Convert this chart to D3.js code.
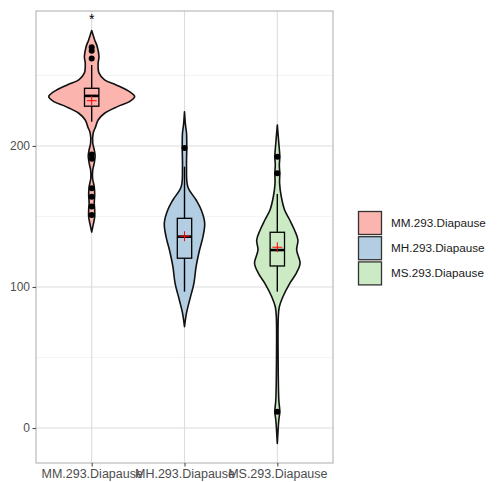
<!DOCTYPE html>
<html>
<head>
<meta charset="utf-8">
<script src="https://cdn.jsdelivr.net/npm/d3@7"></script>
<style>
  html, body { margin: 0; padding: 0; background: #fff; }
  svg { display: block; font-family: "Liberation Sans", Arial, sans-serif; }
</style>
</head>
<body>
<svg id="chart" width="497" height="482"></svg>
<script>
// ---------- data ----------
const categories = ["MM.293.Diapause", "MH.293.Diapause", "MS.293.Diapause"];
const fills = ["#FBB4AE", "#B3CDE3", "#CCEBC5"];
const yTicks = [0, 100, 200];
const yMinor = [50, 150, 250];

// violin outlines: [value, relative density]
const violinMM = [[281.8,0],[275.2,0.07],[270.4,0.13],[263.3,0.17],[258.7,0.15],[251.8,0.17],[246.8,0.30],[243.3,0.57],[238.5,0.88],[235,1.0],[231.4,0.88],[227.9,0.60],[223.2,0.30],[218.4,0.15],[213.5,0.09],[209.2,0.035],[202.1,0.025],[197.2,0.06],[192.9,0.08],[188,0.06],[183,0.025],[177.3,0.02],[171,0.06],[165.2,0.07],[159.6,0.06],[154.6,0.07],[149.6,0.07],[144,0.035],[139,0]];
const violinMH = [[224.3,0],[214.9,0.023],[209.2,0.047],[198.6,0.053],[185.3,0.047],[171.1,0.077],[161.7,0.27],[154.6,0.39],[145.4,0.47],[135.7,0.43],[126.2,0.35],[114.4,0.27],[102.8,0.22],[90.8,0.12],[81.6,0.047],[71.8,0]];
const violinMS = [[214.9,0],[201.9,0.035],[192.4,0.058],[186.5,0.047],[180.6,0.058],[173.5,0.053],[164,0.093],[154.6,0.17],[147.5,0.29],[140.4,0.40],[133.3,0.48],[126.2,0.45],[116.8,0.53],[109.7,0.44],[102.6,0.29],[93.1,0.13],[86,0.047],[78.9,0.023],[48.2,0.019],[19.9,0.035],[11.6,0.058],[5.7,0.035],[-10.9,0]];
const violins = [violinMM, violinMH, violinMS];

// box statistics
const q1 = [228.2, 120.4, 114.9];
const medians = [235.5, 135.7, 126.2];
const q3 = [240.9, 148.7, 138.8];
const whiskerLow = [217.2, 96.7, 96.7];
const whiskerHigh = [257.4, 185.3, 166.0];
const means = [232.1, 136.0, 128.2];

// outliers
const outliersMM = [270, 267.5, 262, 194, 191, 170, 164, 157, 151];
const outliersMH = [198.5];
const outliersMS = [192.4, 180.6, 11.6];
const outliers = [outliersMM, outliersMH, outliersMS];

// significance marker
const sigLabels = ["*", "", ""];
const sigValues = [291, null, null];

// ---------- layout ----------
const svg = d3.select("#chart");
const panel = { left: 36, top: 11, right: 333, bottom: 463 };

const x = d3.scalePoint().domain(categories).range([panel.left, panel.right]).padding(0.6);
const y = d3.scaleLinear().domain([-24.8, 295.7]).range([panel.bottom, panel.top]);
const step = x.step();
const wScale = d3.scaleLinear().domain([0, 1]).range([0, step * 0.463]);
const boxW = step * 0.155;

// grid
const g = svg.append("g");
g.selectAll(".minor").data(yMinor).join("line")
  .attr("x1", panel.left).attr("x2", panel.right)
  .attr("y1", d => y(d)).attr("y2", d => y(d))
  .attr("stroke", "#ebebeb").attr("stroke-width", 0.6);
g.selectAll(".major").data(yTicks).join("line")
  .attr("x1", panel.left).attr("x2", panel.right)
  .attr("y1", d => y(d)).attr("y2", d => y(d))
  .attr("stroke", "#dcdcdc").attr("stroke-width", 1.1);
g.selectAll(".vmajor").data(categories).join("line")
  .attr("x1", d => x(d)).attr("x2", d => x(d))
  .attr("y1", panel.top).attr("y2", panel.bottom)
  .attr("stroke", "#dcdcdc").attr("stroke-width", 1.1);

// violins
const area = d3.area()
  .curve(d3.curveCatmullRom)
  .y(d => y(d[0]));

categories.forEach((c, i) => {
  const cx = x(c);
  const a = area.x0(d => cx - wScale(d[1])).x1(d => cx + wScale(d[1]));
  svg.append("path")
    .attr("d", a(violins[i]))
    .attr("fill", fills[i])
    .attr("stroke", "#111")
    .attr("stroke-width", 1.6)
    .attr("stroke-linejoin", "round");
});

// boxplots
categories.forEach((c, i) => {
  const cx = x(c);
  const bg = svg.append("g");
  bg.append("line").attr("x1", cx).attr("x2", cx)
    .attr("y1", y(q3[i])).attr("y2", y(whiskerHigh[i]))
    .attr("stroke", "#000").attr("stroke-width", 1.4);
  bg.append("line").attr("x1", cx).attr("x2", cx)
    .attr("y1", y(q1[i])).attr("y2", y(whiskerLow[i]))
    .attr("stroke", "#000").attr("stroke-width", 1.4);
  bg.append("rect")
    .attr("x", cx - boxW / 2).attr("width", boxW)
    .attr("y", y(q3[i])).attr("height", y(q1[i]) - y(q3[i]))
    .attr("fill", "none").attr("stroke", "#000").attr("stroke-width", 1.3);
  bg.append("line")
    .attr("x1", cx - boxW / 2).attr("x2", cx + boxW / 2)
    .attr("y1", y(medians[i])).attr("y2", y(medians[i]))
    .attr("stroke", "#000").attr("stroke-width", 2.6);
  // outliers
  bg.selectAll("circle").data(outliers[i]).join("circle")
    .attr("cx", cx).attr("cy", d => y(d)).attr("r", 3)
    .attr("fill", "#000");
  // mean marker (+)
  const my = y(means[i]);
  bg.append("line").attr("x1", cx - 5).attr("x2", cx + 5)
    .attr("y1", my).attr("y2", my).attr("stroke", "#ff0000").attr("stroke-width", 1);
  bg.append("line").attr("x1", cx).attr("x2", cx)
    .attr("y1", my - 5).attr("y2", my + 5).attr("stroke", "#ff0000").attr("stroke-width", 1);
  // significance
  if (sigLabels[i]) {
    svg.append("text").attr("x", cx).attr("y", y(sigValues[i]) + 6)
      .attr("text-anchor", "middle").attr("font-size", 14).attr("fill", "#000")
      .text(sigLabels[i]);
  }
});

// panel border
svg.append("rect")
  .attr("x", panel.left).attr("y", panel.top)
  .attr("width", panel.right - panel.left).attr("height", panel.bottom - panel.top)
  .attr("fill", "none").attr("stroke", "#b3b3b3").attr("stroke-width", 1.1);

// axes
const yAxis = d3.axisLeft(y).tickValues(yTicks).tickSize(3.5).tickPadding(2.5);
const ya = svg.append("g").attr("transform", `translate(${panel.left},0)`).call(yAxis);
ya.select(".domain").remove();
ya.selectAll("line").attr("stroke", "#4d4d4d").attr("stroke-width", 1.1);
ya.selectAll("text").attr("fill", "#4d4d4d").attr("font-size", 12)
  .attr("font-family", "Liberation Sans, Arial, sans-serif");

const xAxis = d3.axisBottom(x).tickSize(3.5).tickPadding(2.5);
const xa = svg.append("g").attr("transform", `translate(0,${panel.bottom})`).call(xAxis);
xa.select(".domain").remove();
xa.selectAll("line").attr("stroke", "#4d4d4d").attr("stroke-width", 1.1);
xa.selectAll("text").attr("fill", "#4d4d4d").attr("font-size", 12.5)
  .attr("font-family", "Liberation Sans, Arial, sans-serif");

// legend
const legX = 358.5, legY = 211.5, keySize = 23, keyStep = 25.2;
const leg = svg.append("g");
categories.forEach((c, i) => {
  leg.append("rect")
    .attr("x", legX).attr("y", legY + i * keyStep)
    .attr("width", keySize).attr("height", keySize)
    .attr("fill", fills[i]).attr("stroke", "#333").attr("stroke-width", 1.3);
  leg.append("text")
    .attr("x", legX + keySize + 9.5).attr("y", legY + i * keyStep + keySize / 2)
    .attr("dy", "0.35em").attr("font-size", 11.7).attr("fill", "#1a1a1a")
    .text(c);
});
</script>
</body>
</html>
